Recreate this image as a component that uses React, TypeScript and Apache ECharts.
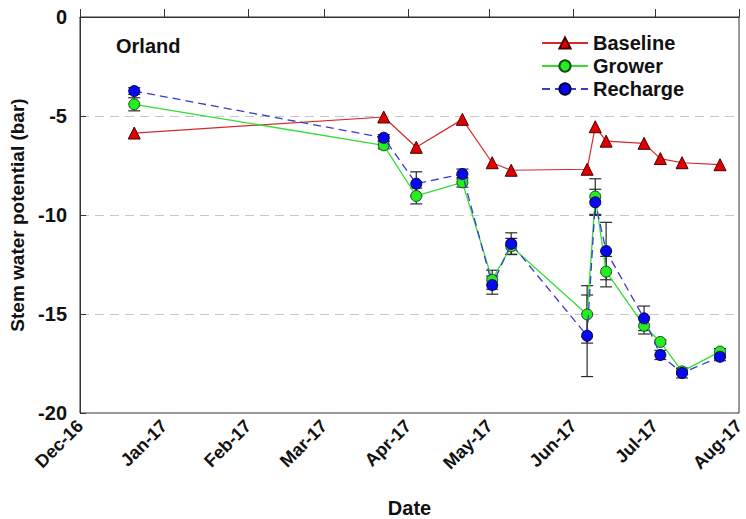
import React, { useEffect, useRef } from "react";
import * as echarts from "echarts";

// Sampling dates (Orland site)
const sampleDates = [
  "2016-12-21", "2017-03-23", "2017-04-04", "2017-04-21", "2017-05-02",
  "2017-05-09", "2017-06-06", "2017-06-09", "2017-06-13", "2017-06-27",
  "2017-07-03", "2017-07-11", "2017-07-25",
];

// Stem water potential (bar)
const baseline = [-5.86, -5.05, -6.58, -5.17, -7.36, -7.74, -7.69, -5.54, -6.27, -6.38, -7.15, -7.36, -7.46];
const grower = [-4.41, -6.48, -9.04, -8.35, -13.27, -11.58, -15.02, -9.07, -12.86, -15.59, -16.41, -17.9, -16.9];
const growerErr = [0.33, 0.18, 0.4, 0.24, 0.48, 0.4, 1.45, 0.9, 0.77, 0.42, 0.1, 0.15, 0.15];
const recharge = [-3.74, -6.1, -8.42, -7.93, -13.54, -11.45, -16.1, -9.36, -11.82, -15.22, -17.07, -17.98, -17.16];
const rechargeErr = [0.17, 0.16, 0.6, 0.25, 0.46, 0.55, 2.06, 0.66, 1.45, 0.62, 0.23, 0.25, 0.2];

const yTicks = [-20, -15, -10, -5, 0];
const monthNames = ["Jan", "Feb", "Mar", "Apr", "May", "Jun", "Jul", "Aug", "Sep", "Oct", "Nov", "Dec"];

const FONT = "'Liberation Sans', Arial, sans-serif";

function toTime(s: string): number {
  const [y, m, d] = s.split("-").map(Number);
  return new Date(y, m - 1, d).getTime();
}

const times = sampleDates.map(toTime);

function errorBarSeries(values: number[], errs: number[], name: string) {
  return {
    type: "custom",
    name,
    z: 1,
    silent: true,
    encode: { x: 0, y: [1, 2] },
    data: times.map((t, i) => [t, values[i] - errs[i], values[i] + errs[i]]),
    renderItem: (_params: any, api: any) => {
      const x = api.value(0);
      const top = api.coord([x, api.value(2)]);
      const bot = api.coord([x, api.value(1)]);
      const w = 6;
      const style = { stroke: "#2b2b2b", lineWidth: 1.2 };
      return {
        type: "group",
        children: [
          { type: "line", shape: { x1: top[0], y1: top[1], x2: bot[0], y2: bot[1] }, style },
          { type: "line", shape: { x1: top[0] - w, y1: top[1], x2: top[0] + w, y2: top[1] }, style },
          { type: "line", shape: { x1: bot[0] - w, y1: bot[1], x2: bot[0] + w, y2: bot[1] }, style },
        ],
      };
    },
  };
}

export default function App() {
  const ref = useRef<HTMLDivElement>(null);

  useEffect(() => {
    document.body.style.margin = "0";
    if (!ref.current) return;
    const chart = echarts.init(ref.current, null, { renderer: "svg" });

    chart.setOption({
      animation: false,
      backgroundColor: "#ffffff",
      textStyle: { fontFamily: FONT },
      title: {
        text: "Orland",
        left: 111,
        top: 31,
        textStyle: { fontFamily: FONT, fontSize: 20, fontWeight: "bold", color: "#111" },
      },
      legend: {
        data: ["Baseline", "Grower", "Recharge"],
        orient: "vertical",
        left: 536,
        top: 28,
        itemWidth: 46,
        itemHeight: 14,
        itemGap: 3,
        textStyle: { fontFamily: FONT, fontSize: 20, fontWeight: "bold", color: "#111", lineHeight: 20 },
      },
      grid: {
        left: 80,
        right: 7,
        top: 17,
        bottom: 106,
        outerBoundsMode: "none",
        containLabel: false,
        show: true,
        borderColor: "#333",
        borderWidth: 1,
      },
      xAxis: {
        type: "time",
        min: toTime("2016-12-01"),
        max: toTime("2017-08-01"),
        splitNumber: 8,
        minInterval: 28 * 86400000,
        maxInterval: 31 * 86400000,
        name: "Date",
        nameLocation: "middle",
        nameGap: 85,
        nameTextStyle: { fontFamily: FONT, fontSize: 20, fontWeight: "bold", color: "#111" },
        axisLine: { show: true, lineStyle: { color: "#333", width: 1 } },
        axisTick: { show: true, inside: true, length: 8, lineStyle: { color: "#333" } },
        splitLine: { show: false },
        axisLabel: {
          rotate: 45,
          interval: 0,
          margin: 10,
          showMinLabel: true,
          showMaxLabel: true,
          hideOverlap: false,
          fontFamily: FONT,
          fontSize: 18,
          fontWeight: "bold",
          color: "#111",
          formatter: (v: number) => {
            const d = new Date(v);
            return monthNames[d.getMonth()] + "-" + String(d.getFullYear()).slice(2);
          },
        },
      },
      yAxis: {
        type: "value",
        min: yTicks[0],
        max: yTicks[yTicks.length - 1],
        interval: 5,
        name: "Stem water potential (bar)",
        nameLocation: "middle",
        nameGap: 52,
        nameTextStyle: { fontFamily: FONT, fontSize: 19, fontWeight: "bold", color: "#111" },
        axisLine: { show: true, lineStyle: { color: "#333", width: 1 } },
        axisTick: { show: true, inside: true, length: 6, lineStyle: { color: "#333" } },
        axisLabel: {
          margin: 13,
          fontFamily: FONT,
          fontSize: 20,
          fontWeight: "bold",
          color: "#111",
        },
        splitLine: {
          show: true,
          showMinLine: false,
          showMaxLine: false,
          lineStyle: { color: "#c8c8c8", type: [9, 6], width: 1.2 },
        },
      },
      series: [
        errorBarSeries(grower, growerErr, "growerErr"),
        errorBarSeries(recharge, rechargeErr, "rechargeErr"),
        {
          type: "line",
          name: "Baseline",
          data: times.map((t, i) => [t, baseline[i]]),
          symbol: "triangle",
          symbolSize: 12,
          lineStyle: { color: "#d42a2a", width: 1.2 },
          itemStyle: { color: "#e00000", borderColor: "#4a0000", borderWidth: 1 },
          z: 3,
        },
        {
          type: "line",
          name: "Grower",
          data: times.map((t, i) => [t, grower[i]]),
          symbol: "circle",
          symbolSize: 11,
          lineStyle: { color: "#33dd33", width: 1.3 },
          itemStyle: { color: "#22ee22", borderColor: "#1a4a1a", borderWidth: 1 },
          z: 4,
        },
        {
          type: "line",
          name: "Recharge",
          data: times.map((t, i) => [t, recharge[i]]),
          symbol: "circle",
          symbolSize: 11,
          lineStyle: { color: "#3a3acc", width: 1.3, type: [8, 5] },
          itemStyle: { color: "#0808f0", borderColor: "#00003a", borderWidth: 1 },
          z: 5,
        },
      ],
    });

    return () => chart.dispose();
  }, []);

  return <div ref={ref} style={{ width: 746, height: 519 }} />;
}
